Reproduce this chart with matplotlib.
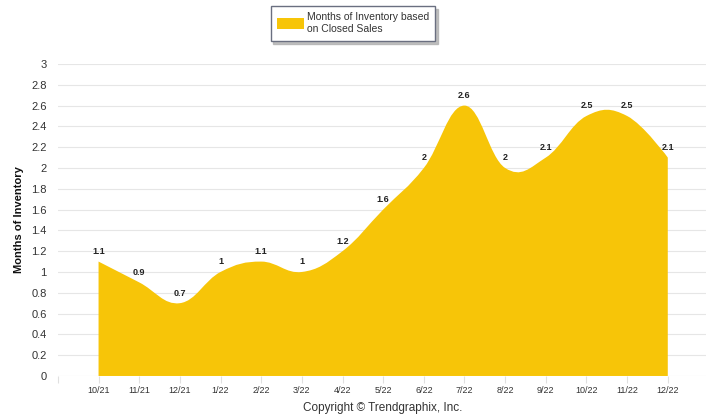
import numpy as np
import matplotlib.pyplot as plt
from matplotlib.path import Path
from matplotlib.patches import PathPatch, Patch

months = ['10/21', '11/21', '12/21', '1/22', '2/22', '3/22', '4/22', '5/22',
          '6/22', '7/22', '8/22', '9/22', '10/22', '11/22', '12/22']
inventory = [1.1, 0.9, 0.7, 1, 1.1, 1, 1.2, 1.6, 2, 2.6, 2, 2.1, 2.5, 2.5, 2.1]
y_ticks = [0, 0.2, 0.4, 0.6, 0.8, 1, 1.2, 1.4, 1.6, 1.8, 2, 2.2, 2.4, 2.6, 2.8, 3]

fill_color = '#F7C508'
text_color = '#333333'
plt.rcParams['font.family'] = ['Liberation Sans Narrow', 'Liberation Sans', 'DejaVu Sans']


def spline_path(xs, ys, smoothing=1.5):
    # old highcharts areaspline bezier segments (no extreme clamping)
    n = len(xs)
    left = [None] * n
    right = [None] * n
    d = smoothing + 1
    for i in range(1, n - 1):
        px, py = xs[i], ys[i]
        lx, ly = xs[i - 1], ys[i - 1]
        nx, ny = xs[i + 1], ys[i + 1]
        lcx = (smoothing * px + lx) / d
        lcy = (smoothing * py + ly) / d
        rcx = (smoothing * px + nx) / d
        rcy = (smoothing * py + ny) / d
        corr = (rcy - lcy) * (rcx - px) / (rcx - lcx) + py - rcy
        left[i] = (lcx, lcy + corr)
        right[i] = (rcx, rcy + corr)
    verts = [(xs[0], 0), (xs[0], ys[0])]
    codes = [Path.MOVETO, Path.LINETO]
    for i in range(1, n):
        c1 = right[i - 1] or (xs[i - 1], ys[i - 1])
        c2 = left[i] or (xs[i], ys[i])
        verts += [c1, c2, (xs[i], ys[i])]
        codes += [Path.CURVE4] * 3
    verts += [(xs[-1], 0), (xs[0], 0)]
    codes += [Path.LINETO, Path.CLOSEPOLY]
    return Path(verts, codes)


fig = plt.figure(figsize=(7.06, 4.16), dpi=100)
ax = fig.add_axes([0.082, 0.0962, 0.918, 0.75])

x = np.arange(len(months))
ax.add_patch(PathPatch(spline_path(list(x), inventory), facecolor=fill_color,
                       edgecolor='none', zorder=2))

for xi, v in zip(x, inventory):
    ax.annotate(f'{v:g}', (xi, v), xytext=(0, 4), textcoords='offset points',
                ha='center', va='bottom', fontsize=6.5, fontweight='bold',
                color='#222222', zorder=3, family=['Liberation Sans', 'DejaVu Sans'])

ax.set_xlim(-1.0, 14.94)
ax.set_ylim(0, 3)
ax.set_yticks(y_ticks)
ax.set_yticklabels([f'{t:g}' for t in y_ticks])
ax.set_xticks(list(x) + [-1])
ax.set_xticklabels(months + [''])
ax.grid(axis='y', color='#e6e6e6', linewidth=0.8, zorder=0)
for s in ax.spines.values():
    s.set_visible(False)
ax.tick_params(axis='y', length=0, pad=8, labelsize=8, labelcolor=text_color)
ax.tick_params(axis='x', length=5, color='#e0e0e0', pad=2, labelsize=6.5,
               labelcolor=text_color)
ax.set_ylabel('Months of Inventory', fontsize=8, fontweight='bold', color='#111111',
              labelpad=5, family=['Liberation Sans', 'DejaVu Sans'])

leg = fig.legend(handles=[Patch(facecolor=fill_color, edgecolor='none')],
                 labels=['Months of Inventory based\non Closed Sales'],
                 loc='center', bbox_to_anchor=(0.5, 0.944),
                 frameon=True, fancybox=False, shadow={'color': '#b0b0b0', 'alpha': 0.8},
                 handlelength=2.6, handleheight=1.3, handletextpad=0.3, borderpad=0.6,
                 prop={'family': ['Liberation Sans', 'DejaVu Sans'], 'size': 7.5})
leg.get_frame().set_edgecolor('#6a6f80')
leg.get_frame().set_linewidth(1.0)
for t in leg.get_texts():
    t.set_color(text_color)
    t.set_linespacing(1.3)

fig.text(0.5425, 0.019, 'Copyright \u00a9 Trendgraphix, Inc.', ha='center', va='center',
         fontsize=8.5, color=text_color, family=['Liberation Sans', 'DejaVu Sans'])

fig.savefig('out.png', dpi=100)
